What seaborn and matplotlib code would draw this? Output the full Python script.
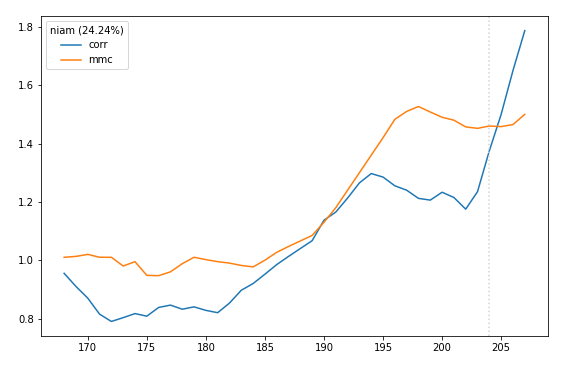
import pandas as pd
import matplotlib
matplotlib.use("Agg")
import matplotlib.pyplot as plt
import seaborn as sns

eras = list(range(168, 208))
corr = [0.955, 0.91, 0.87, 0.815, 0.79, 0.803, 0.817, 0.808, 0.838, 0.846,
        0.832, 0.84, 0.828, 0.82, 0.853, 0.897, 0.92, 0.952, 0.985, 1.013,
        1.04, 1.067, 1.137, 1.165, 1.213, 1.265, 1.297, 1.285, 1.255, 1.24,
        1.212, 1.206, 1.233, 1.215, 1.175, 1.235, 1.375, 1.5, 1.65, 1.787]
mmc = [1.01, 1.013, 1.02, 1.01, 1.01, 0.98, 0.995, 0.948, 0.947, 0.96,
       0.988, 1.01, 1.002, 0.995, 0.99, 0.982, 0.977, 1.0, 1.027, 1.047,
       1.066, 1.085, 1.13, 1.18, 1.24, 1.30, 1.36, 1.42, 1.483, 1.51,
       1.527, 1.508, 1.49, 1.48, 1.457, 1.452, 1.46, 1.458, 1.465, 1.5]
split_era = 204
title = "niam (24.24%)"

df = pd.DataFrame({"era": eras, "corr": corr, "mmc": mmc})
long = df.melt(id_vars="era", var_name="metric", value_name="value")

# original looks like a 72 dpi render, so draw at 72 dpi with default sizes
fig, ax = plt.subplots(figsize=(563 / 72, 366 / 72), dpi=72)
fig.subplots_adjust(left=0.073, right=0.973, top=0.956, bottom=0.082)

sns.lineplot(data=long, x="era", y="value", hue="metric",
             palette=["#1f77b4", "#ff7f0e"], ax=ax)
ax.axvline(split_era, color="lightgrey", ls=":")

ax.set_xlabel("")
ax.set_ylabel("")
ax.legend(title=title, loc="upper left")

fig.savefig("out.png", dpi=72)
